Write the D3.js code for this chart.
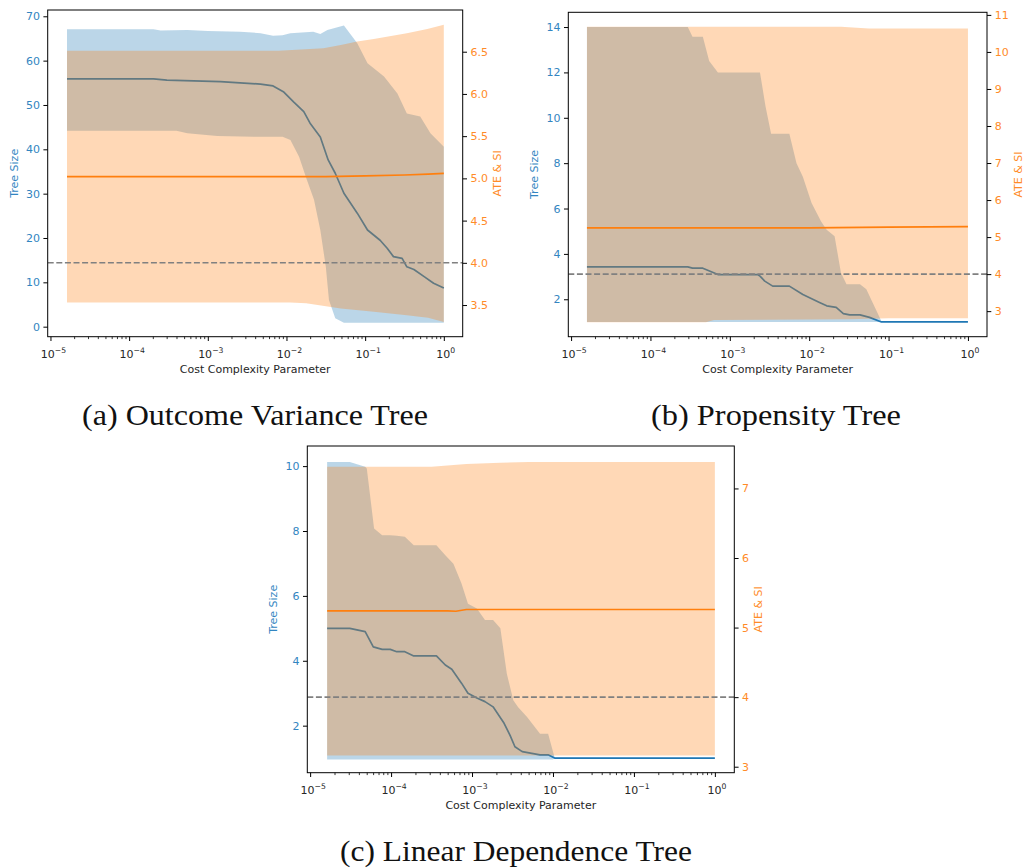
<!DOCTYPE html>
<html><head><meta charset="utf-8">
<script src="https://cdn.jsdelivr.net/npm/d3@7"></script>
<style>body{margin:0;background:#fff}svg{display:block}.cap{font-family:"Liberation Serif","Times New Roman",serif}</style>
</head><body>
<svg id="chart" width="1024" height="868"></svg>
<script>
// ---------------- DATA (x values are log10 of the cost complexity parameter) ----------------
const xTickExps = [-5, -4, -3, -2, -1, 0];
const refLineATE = 4.0;

// (a) Outcome Variance Tree
const aTreeMean = [[-4.79,55.9],[-3.69,55.9],[-3.52,55.6],[-2.84,55.25],[-2.59,55.0],[-2.33,54.7],[-2.17,54.3],[-2.04,53.0],[-1.91,50.7],[-1.78,48.5],[-1.70,45.9],[-1.57,42.8],[-1.47,37.6],[-1.38,34.6],[-1.27,30.1],[-1.10,25.6],[-0.97,21.8],[-0.81,19.5],[-0.72,17.7],[-0.64,15.8],[-0.53,15.4],[-0.47,13.5],[-0.38,12.9],[-0.25,11.3],[-0.13,9.8],[0,8.7]];
const aTreeHi = [[-4.79,67.1],[-3.69,67.1],[-3.6,66.8],[-3.26,66.9],[-3.0,66.7],[-2.59,66.5],[-2.33,66.2],[-2.17,65.6],[-2.05,65.7],[-1.95,66.2],[-1.66,66.5],[-1.57,66.0],[-1.48,66.9],[-1.27,67.9],[-1.10,63.9],[-0.97,59.4],[-0.76,56.4],[-0.59,52.6],[-0.47,48.1],[-0.30,47.4],[-0.17,43.6],[0,40.6]];
const aTreeLo = [[-4.79,44.2],[-3.4,44.2],[-3.26,43.6],[-2.88,43.0],[-2.42,42.85],[-2.05,42.85],[-1.95,42.1],[-1.84,38.3],[-1.74,33.1],[-1.65,28.6],[-1.57,21.8],[-1.5,13.5],[-1.46,6.0],[-1.38,1.9],[-1.27,0.9],[0,0.9]];
const aAteMean = [[-4.79,5.02],[-1.5,5.02],[-1.0,5.03],[-0.5,5.04],[-0.2,5.05],[0,5.06]];
const aAteHi = [[-4.79,6.51],[-2.1,6.51],[-1.53,6.54],[-1.31,6.58],[-1.10,6.62],[-0.89,6.65],[-0.47,6.72],[-0.21,6.77],[0,6.82]];
const aAteLo = [[-4.79,3.53],[-1.95,3.53],[-1.75,3.52],[-1.31,3.46],[-0.89,3.42],[-0.47,3.38],[-0.2,3.35],[0,3.30]];
const aTreeTicks = [0, 10, 20, 30, 40, 50, 60, 70];
const aAteTicks = [3.5, 4.0, 4.5, 5.0, 5.5, 6.0, 6.5];

// (b) Propensity Tree
const bTreeMean = [[-4.8,3.43],[-3.53,3.43],[-3.47,3.37],[-3.34,3.37],[-3.15,3.09],[-2.65,3.09],[-2.62,3.02],[-2.56,2.80],[-2.46,2.58],[-2.25,2.58],[-2.08,2.21],[-1.87,1.86],[-1.78,1.71],[-1.66,1.64],[-1.57,1.37],[-1.49,1.31],[-1.36,1.31],[-1.24,1.2],[-1.09,1.0],[0,1.0]];
const bTreeHi = [[-4.8,14.0],[-3.53,14.0],[-3.47,13.57],[-3.34,13.57],[-3.26,12.5],[-3.15,12.0],[-2.62,12.0],[-2.55,10.5],[-2.48,9.3],[-2.25,9.3],[-2.16,8.0],[-2.08,7.4],[-1.97,6.24],[-1.85,5.43],[-1.78,5.07],[-1.68,4.78],[-1.60,3.17],[-1.53,2.66],[-1.36,2.66],[-1.28,2.44],[-1.20,1.85],[-1.09,1.03],[0,1.0]];
const bTreeLo = [[-4.8,1.0],[0,1.0]];
const bAteMean = [[-4.8,5.25],[-2.0,5.25],[-1.0,5.27],[0,5.28]];
const bAteHi = [[-4.8,10.68],[-1.6,10.68],[-1.25,10.63],[0,10.63]];
const bAteLo = [[-4.8,2.70],[-3.3,2.70],[-3.2,2.76],[-1.5,2.78],[-1.0,2.81],[0,2.81]];
const bTreeTicks = [2, 4, 6, 8, 10, 12, 14];
const bAteTicks = [3, 4, 5, 6, 7, 8, 9, 10, 11];

// (c) Linear Dependence Tree
const cTreeMean = [[-4.79,5.0],[-4.51,5.0],[-4.32,4.9],[-4.22,4.43],[-4.11,4.35],[-4.01,4.35],[-3.93,4.28],[-3.83,4.28],[-3.72,4.15],[-3.44,4.15],[-3.33,3.87],[-3.25,3.74],[-3.13,3.31],[-3.05,3.0],[-2.94,2.85],[-2.84,2.74],[-2.74,2.58],[-2.61,2.1],[-2.53,1.7],[-2.47,1.35],[-2.38,1.2],[-2.16,1.1],[-2.06,1.1],[-1.98,1.0],[0,1.0]];
const cTreeHi = [[-4.79,10.13],[-4.51,10.13],[-4.32,9.98],[-4.30,9.93],[-4.21,8.08],[-4.11,7.87],[-4.01,7.87],[-3.93,7.85],[-3.83,7.82],[-3.72,7.56],[-3.44,7.56],[-3.33,7.25],[-3.23,6.99],[-3.13,6.38],[-3.05,5.76],[-2.94,5.61],[-2.84,5.26],[-2.74,5.26],[-2.65,5.0],[-2.57,3.6],[-2.49,2.78],[-2.43,2.57],[-2.32,2.27],[-2.16,1.75],[-2.06,1.75],[-1.98,1.02],[0,1.0]];
const cTreeLo = [[-4.79,0.96],[-2.0,0.96],[-1.98,1.0],[0,1.0]];
const cAteMean = [[-4.79,5.24],[-3.3,5.24],[-3.2,5.235],[-3.07,5.26],[0,5.26]];
const cAteHi = [[-4.79,7.31],[-3.5,7.31],[-3.07,7.35],[-2.65,7.37],[-2.3,7.38],[0,7.38]];
const cAteLo = [[-4.79,3.16],[0,3.16]];
const cTreeTicks = [2, 4, 6, 8, 10];
const cAteTicks = [3, 4, 5, 6, 7];

const captions = ["(a) Outcome Variance Tree", "(b) Propensity Tree", "(c) Linear Dependence Tree"];
const xLabel = "Cost Complexity Parameter";
const yLeftLabel = "Tree Size";
const yRightLabel = "ATE & SI";

// ---------------- LAYOUT / STYLE ----------------
const BLUE = "#1f77b4", ORANGE = "#ff7f0e";
const BLUE_TXT = "#3285c1", ORANGE_TXT = "#ff8b28";
const FONT = "DejaVu Sans";
const FS = "11px";
const xDomainExp = [-5.035, 0.24];

const panels = [
  { id: "a", box: { l: 47.7, t: 10, r: 462.7, b: 336.7 }, yL: [-2.26, 71.42], yR: [3.125, 6.994],
    treeMean: aTreeMean, treeHi: aTreeHi, treeLo: aTreeLo, ateMean: aAteMean, ateHi: aAteHi, ateLo: aAteLo,
    yLTicks: aTreeTicks, yRTicks: aAteTicks, yLFmt: d3.format("d"), yRFmt: d3.format(".1f"),
    lblL: 17.8, lblR: 501.2, caption: captions[0], capX: 255, capY: 425, capW: 346 },
  { id: "b", box: { l: 568.3, t: 12.3, r: 987, b: 336.7 }, yL: [0.35, 14.65], yR: [2.31, 11.07],
    treeMean: bTreeMean, treeHi: bTreeHi, treeLo: bTreeLo, ateMean: bAteMean, ateHi: bAteHi, ateLo: bAteLo,
    yLTicks: bTreeTicks, yRTicks: bAteTicks, yLFmt: d3.format("d"), yRFmt: d3.format("d"),
    lblL: 538.1, lblR: 1021.5, caption: captions[1], capX: 776, capY: 425, capW: 250 },
  { id: "c", box: { l: 307.3, t: 446, r: 734.3, b: 772.7 }, yL: [0.55, 10.62], yR: [2.914, 7.61],
    treeMean: cTreeMean, treeHi: cTreeHi, treeLo: cTreeLo, ateMean: cAteMean, ateHi: cAteHi, ateLo: cAteLo,
    yLTicks: cTreeTicks, yRTicks: cAteTicks, yLFmt: d3.format("d"), yRFmt: d3.format("d"),
    lblL: 277.1, lblR: 762.1, caption: captions[2], capX: 516, capY: 861, capW: 352 }
];

const svg = d3.select("#chart");

function drawPanel(p) {
  const B = p.box;
  const x = d3.scaleLog().domain(xDomainExp.map(e => Math.pow(10, e))).range([B.l, B.r]);
  const yL = d3.scaleLinear().domain(p.yL).range([B.b, B.t]);
  const yR = d3.scaleLinear().domain(p.yR).range([B.b, B.t]);
  const g = svg.append("g");
  const clipId = "clip-" + p.id;
  g.append("clipPath").attr("id", clipId).append("rect")
    .attr("x", B.l).attr("y", B.t).attr("width", B.r - B.l).attr("height", B.b - B.t);
  const plot = g.append("g").attr("clip-path", `url(#${clipId})`);
  const lineGen = y => d3.line().x(d => x(Math.pow(10, d[0]))).y(d => y(d[1]));
  const band = (hi, lo, y) => lineGen(y)(hi.concat(lo.slice().reverse())) + "Z";

  plot.append("path").attr("d", band(p.treeHi, p.treeLo, yL)).attr("fill", BLUE).attr("fill-opacity", 0.3);
  plot.append("path").attr("d", lineGen(yL)(p.treeMean)).attr("fill", "none").attr("stroke", BLUE)
    .attr("stroke-width", 1.7).attr("stroke-linejoin", "round");
  plot.append("path").attr("d", band(p.ateHi, p.ateLo, yR)).attr("fill", ORANGE).attr("fill-opacity", 0.3);
  plot.append("path").attr("d", lineGen(yR)(p.ateMean)).attr("fill", "none").attr("stroke", ORANGE)
    .attr("stroke-width", 1.7).attr("stroke-linejoin", "round");
  plot.append("line").attr("x1", B.l).attr("x2", B.r).attr("y1", yR(refLineATE)).attr("y2", yR(refLineATE))
    .attr("stroke", "#808080").attr("stroke-width", 1.6).attr("stroke-dasharray", "6,2.6");

  // left axis
  const la = g.append("g").attr("transform", `translate(${B.l},0)`)
    .call(d3.axisLeft(yL).tickValues(p.yLTicks).tickSize(4.3).tickPadding(3.4).tickFormat(p.yLFmt));
  la.select(".domain").remove();
  la.selectAll("line").attr("stroke", "#000").attr("stroke-width", 1);
  la.selectAll("text").attr("fill", BLUE_TXT).style("font-family", FONT).style("font-size", FS);
  // right axis
  const ra = g.append("g").attr("transform", `translate(${B.r},0)`)
    .call(d3.axisRight(yR).tickValues(p.yRTicks).tickSize(4.3).tickPadding(3.4).tickFormat(p.yRFmt));
  ra.select(".domain").remove();
  ra.selectAll("line").attr("stroke", "#000").attr("stroke-width", 1);
  ra.selectAll("text").attr("fill", ORANGE_TXT).style("font-family", FONT).style("font-size", FS);
  // bottom axis: major + minor
  const majors = xTickExps.map(e => Math.pow(10, e));
  const minors = [];
  for (let k = -6; k <= 0; k++) for (let m = 2; m <= 9; m++) {
    const v = m * Math.pow(10, k);
    if (v >= x.domain()[0] && v <= x.domain()[1]) minors.push(v);
  }
  const ba = g.append("g").attr("transform", `translate(0,${B.b})`)
    .call(d3.axisBottom(x).tickValues(majors).tickSize(4.3).tickFormat(""));
  ba.select(".domain").remove();
  ba.selectAll("line").attr("stroke", "#000").attr("stroke-width", 1);
  const bm = g.append("g").attr("transform", `translate(0,${B.b})`)
    .call(d3.axisBottom(x).tickValues(minors).tickSize(2.4).tickFormat(""));
  bm.select(".domain").remove();
  bm.selectAll("line").attr("stroke", "#000").attr("stroke-width", 0.8);
  // major labels 10^k
  xTickExps.forEach(e => {
    const t = g.append("text").attr("x", x(Math.pow(10, e)) + (e === 0 ? 2 : 3)).attr("y", B.b + 20.8)
      .attr("text-anchor", "middle").attr("fill", "#262626")
      .style("font-family", FONT).style("font-size", FS);
    t.append("tspan").text("10");
    t.append("tspan").attr("dy", -5).style("font-size", "7.7px").text(e === 0 ? "0" : "\u2212" + Math.abs(e));
  });
  // spines
  g.append("rect").attr("x", B.l).attr("y", B.t).attr("width", B.r - B.l).attr("height", B.b - B.t)
    .attr("fill", "none").attr("stroke", "#000").attr("stroke-width", 1);
  // axis labels
  g.append("text").attr("x", (B.l + B.r) / 2).attr("y", B.b + 36.3).attr("text-anchor", "middle")
    .attr("fill", "#262626").style("font-family", FONT).style("font-size", FS).text(xLabel);
  const cy = (B.t + B.b) / 2;
  g.append("text").attr("transform", `translate(${p.lblL},${cy}) rotate(-90)`).attr("text-anchor", "middle")
    .attr("fill", BLUE_TXT).style("font-family", FONT).style("font-size", FS).text(yLeftLabel);
  g.append("text").attr("transform", `translate(${p.lblR},${cy}) rotate(-90)`).attr("text-anchor", "middle")
    .attr("fill", ORANGE_TXT).style("font-family", FONT).style("font-size", FS).text(yRightLabel);
  // caption
  svg.append("text").attr("class", "cap").attr("x", p.capX).attr("y", p.capY).attr("text-anchor", "middle")
    .attr("textLength", p.capW).attr("lengthAdjust", "spacingAndGlyphs")
    .attr("fill", "#111").style("font-size", "29px")
    .text(p.caption);
}

panels.forEach(drawPanel);
</script>
</body></html>
